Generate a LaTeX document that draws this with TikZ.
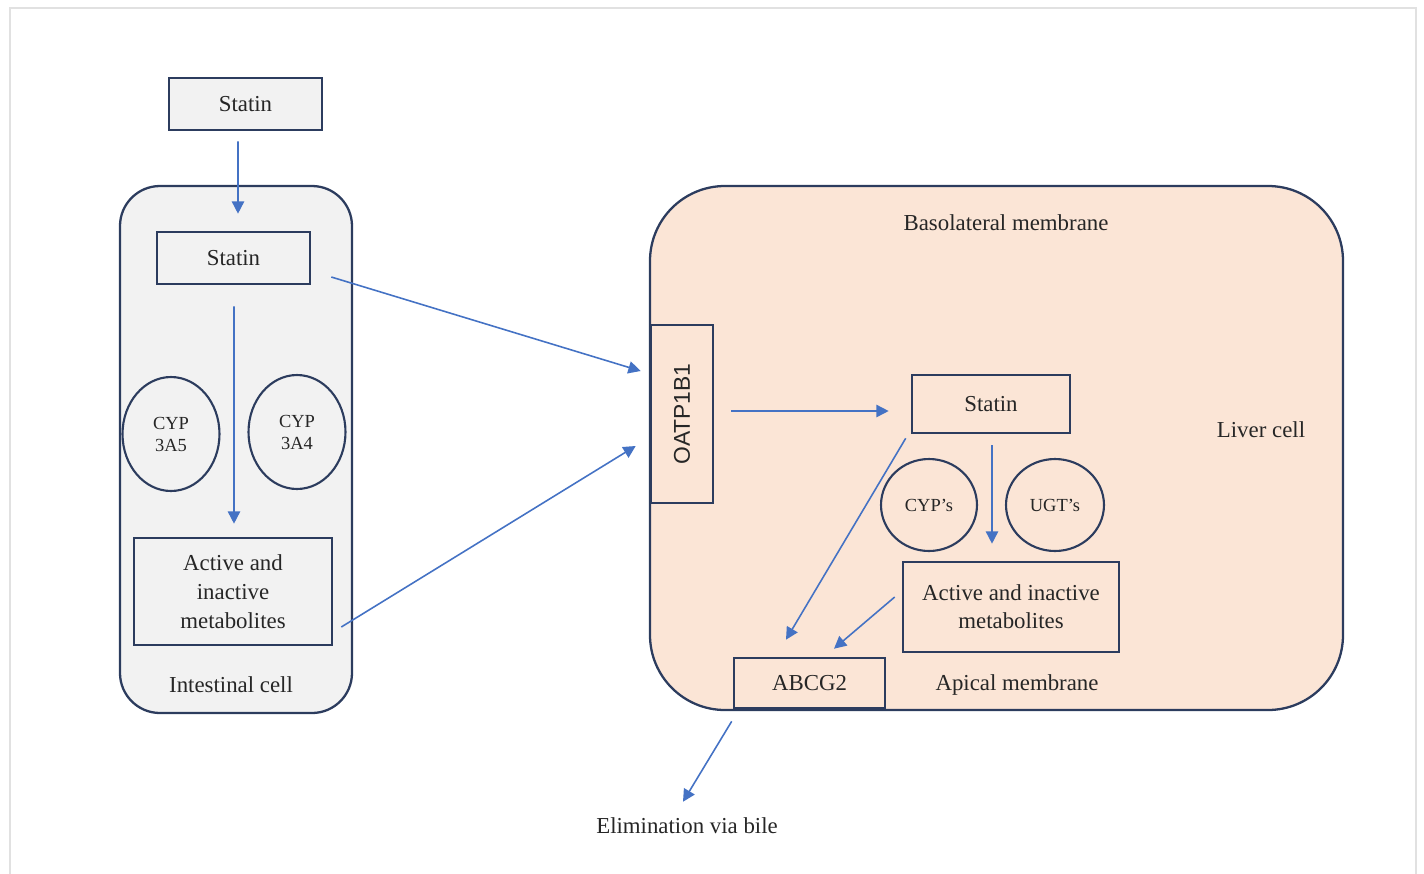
\documentclass[tikz,border=0pt]{standalone}
\usepackage{fontspec}
\setmainfont{Liberation Serif}
\newfontfamily\oatpfont{Liberation Sans}
\usetikzlibrary{shapes.geometric, arrows.meta, positioning, calc}
\definecolor{cellline}{RGB}{44, 60, 94}
\definecolor{flowblue}{RGB}{68, 114, 196}
\definecolor{gutgray}{RGB}{242, 242, 242}
\definecolor{liverpeach}{RGB}{251, 229, 214}
\definecolor{framegray}{RGB}{225, 225, 225}

\begin{document}
\begin{tikzpicture}[
    x=0.02cm, y=-0.02cm,
    every node/.style={font=\fontsize{13}{16}\selectfont, text=black!85},
    cell/.style={draw=cellline, line width=1.3pt},
    box/.style={rectangle, draw=cellline, line width=1.5pt, inner sep=0pt, align=center},
    enzyme/.style={ellipse, draw=cellline, line width=1.2pt, inner sep=0pt, align=center, font=\fontsize{10.5}{12.5}\selectfont},
    arrow/.style={-{Triangle[length=7pt, width=7pt]}, draw=flowblue, line width=0.9pt}
]
    \useasboundingbox (0,0) rectangle (1424,873);
    \draw[framegray, line width=1.5pt] (10,880) -- (10,8) -- (1416,8) -- (1416,880);

    % cells
    \draw[cell, fill=gutgray, rounded corners=0.8cm] (120,186) rectangle (352,713);
    \draw[cell, fill=liverpeach, rounded corners=1.5cm] (650,186) rectangle (1343,710);

    % intestinal side
    \node[box, fill=gutgray, minimum width=3.06cm, minimum height=1.04cm] (topstatin) at (245.5,104) {Statin};
    \node[box, fill=gutgray, minimum width=3.06cm, minimum height=1.04cm] (intstatin) at (233.5,258) {Statin};
    \node[enzyme, minimum width=1.94cm, minimum height=2.28cm] (cyp5) at (171,434) {CYP\\3A5};
    \node[enzyme, minimum width=1.94cm, minimum height=2.28cm] (cyp4) at (297,432) {CYP\\3A4};
    \node[box, fill=gutgray, minimum width=3.96cm, minimum height=2.14cm,
          font=\fontsize{13}{16.5}\selectfont] (leftmet) at (233,591.5) {Active and\\inactive\\metabolites};
    \node (intlabel) at (231,685) {Intestinal cell};

    % liver side
    \node (baso) at (1006,223) {Basolateral membrane};
    \node (liverlabel) at (1261,430) {Liver cell};
    \node[box, fill=liverpeach, minimum width=1.24cm, minimum height=3.56cm] (oatp) at (682,414)
        {\rotatebox{90}{\oatpfont OATP1B1}};
    \node[box, fill=liverpeach, minimum width=3.16cm, minimum height=1.16cm] (rstatin) at (991,404) {Statin};
    \node[enzyme, minimum width=1.92cm, minimum height=1.84cm] (cyps) at (929,505) {CYP's};
    \node[enzyme, minimum width=1.96cm, minimum height=1.84cm] (ugts) at (1055,505) {UGT's};
    \node[box, fill=liverpeach, minimum width=4.32cm, minimum height=1.8cm] (rightmet) at (1011,607)
        {Active and inactive\\metabolites};
    \node[box, fill=liverpeach, minimum width=3.02cm, minimum height=1.0cm] (abcg2) at (809.5,683) {ABCG2};
    \node (apical) at (1017,685) {Apical membrane};
    \node (bile) at (687,826) {Elimination via bile};

    % flows
    \draw[arrow] ($(topstatin.south)+(-7.5,10)$) -- ($(intstatin.north)+(4.5,-17)$);
    \draw[arrow] ($(intstatin.south)+(0.5,21)$) -- ($(leftmet.north)+(1,-13)$);
    \draw[arrow] ($(intstatin.east)+(20,19)$) -- ($(oatp.west)+(-9,-43)$);
    \draw[arrow] ($(leftmet.east)+(8,35.5)$) -- ($(oatp.west)+(-14,32)$);
    \draw[arrow] ($(oatp.east)+(17,-3)$) -- ($(rstatin.west)+(-22,7)$);
    \draw[arrow] ($(rstatin.south)+(1,11)$) -- ($(rightmet.north)+(-19,-17)$);
    \draw[arrow] ($(rstatin.south west)+(-5,4)$) -- ($(abcg2.north)+(-23.5,-17)$);
    \draw[arrow] ($(rightmet.west)+(-7,-10)$) -- ($(abcg2.north)+(24.5,-8)$);
    \draw[arrow] ($(abcg2.south west)+(-1,12)$) -- ($(bile.north)+(-4,-10)$);
\end{tikzpicture}
\end{document}
